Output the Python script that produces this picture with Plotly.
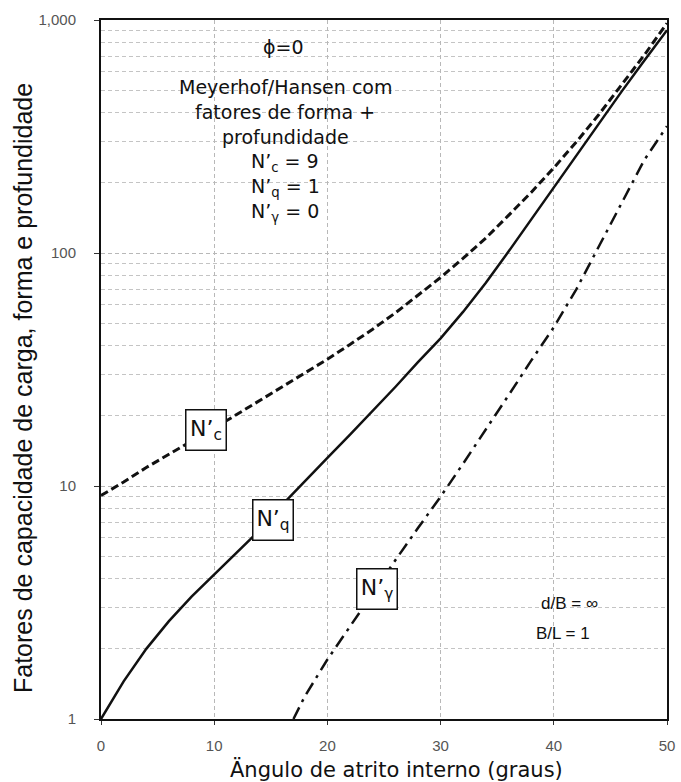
import plotly.graph_objects as go

# ---- data ----
phi = [0, 2, 4, 6, 8, 10, 12, 14, 16, 18, 20, 22, 24, 26, 28, 30, 32, 34, 36, 38, 40, 42, 44, 46, 48, 50]
nc = [9.1, 10.4, 12.0, 13.7, 15.6, 17.7, 20.3, 23.3, 26.6, 30.5, 35, 40.5, 47.1, 55.3, 65.6, 78.5, 95, 116, 145, 182, 232, 300, 394, 525, 708, 968]
nq = [1.0, 1.45, 2.0, 2.63, 3.35, 4.17, 5.18, 6.45, 8.3, 10.5, 13.2, 16.6, 21, 26.6, 34, 43, 56, 74.6, 101.4, 139, 192, 264, 362, 494, 670, 904]
phi_g = [17, 18, 20, 22, 24, 26, 28, 30, 32, 34, 36, 38, 40, 42, 44, 46, 48, 50]
ng = [1.0, 1.25, 1.8, 2.5, 3.45, 4.8, 6.6, 9.0, 12.5, 17.4, 24.5, 34.5, 48, 70, 107, 166, 251, 350]

x_ticks = [0, 10, 20, 30, 40, 50]
y_ticks = [1, 10, 100, 1000]
y_ticktext = ["1", "10", "100", "1,000"]
y_minor = [m * d for d in (1, 10, 100) for m in range(2, 10)]

fig = go.Figure()
fig.add_trace(go.Scatter(x=phi, y=nc, mode="lines", line=dict(color="#111", width=3, dash="8px,4px"), showlegend=False))
fig.add_trace(go.Scatter(x=phi, y=nq, mode="lines", line=dict(color="#111", width=2.5), showlegend=False))
fig.add_trace(go.Scatter(x=phi_g, y=ng, mode="lines", line=dict(color="#111", width=2.5, dash="13px,6px,3px,6px"), showlegend=False))

L, R, T, B = 101, 14, 20, 63
W, H = 681, 782
pw, ph = W - L - R, H - T - B


def px(x):
    return (x - L) / pw


def py(y):
    return (H - B - y) / ph


ann = []
tfont = dict(family="DejaVu Sans", size=19, color="#111")
ann.append(dict(text="ϕ=0", x=px(283), y=py(47), font=dict(family="DejaVu Sans", size=19, color="#111")))
lines = ["Meyerhof/Hansen com", "fatores de forma +", "profundidade",
         "N’<sub>c</sub> = 9", "N’<sub>q</sub> = 1", "N’<sub>γ</sub> = 0"]
for i, t in enumerate(lines):
    ann.append(dict(text=t, x=px(285), y=py(87 + 25 * i), font=tfont))

bfont = dict(family="DejaVu Sans", size=22, color="#111")
for t, cx, cy in [("N’<sub>c</sub>", 206, 430), ("N’<sub>q</sub>", 273, 520), ("N’<sub>γ</sub>", 377, 589)]:
    ann.append(dict(text=t, x=px(cx), y=py(cy), font=bfont, bgcolor="white",
                    bordercolor="#111", borderwidth=1.5, borderpad=1, width=37, height=37))

afont = dict(family="Liberation Sans", size=17, color="#111")
ann.append(dict(text="d/B = ∞", x=px(569), y=py(603), font=afont))
ann.append(dict(text="B/L = 1", x=px(563), y=py(633), font=afont))

# axis titles
ann.append(dict(text="Ängulo de atrito interno (graus)", x=px(396), y=py(769),
                font=dict(family="DejaVu Sans", size=21, color="#111")))
ann.append(dict(text="Fatores de capacidade de carga, forma e profundidade", x=px(23), y=py(388),
                textangle=-90, font=dict(family="Liberation Sans", size=25, color="#111")))

for a in ann:
    a.update(xref="paper", yref="paper", showarrow=False, xanchor="center", yanchor="middle")

grid = dict(gridcolor="#b8b8b8", gridwidth=1, griddash="4px,3px")

fig.update_layout(
    width=W, height=H,
    margin=dict(l=L, r=R, t=T, b=B, pad=0),
    paper_bgcolor="white", plot_bgcolor="white",
    annotations=ann,
    xaxis=dict(range=[0, 50], tickvals=x_ticks, ticks="outside", ticklen=4, tickcolor="#333",
               showline=True, linecolor="#111", linewidth=2, mirror=True, automargin=False,
               showgrid=True, zeroline=False, ticklabelstandoff=8,
               tickfont=dict(family="Liberation Sans", size=15, color="#555"), **grid),
    yaxis=dict(type="log", range=[0, 3], tickvals=y_ticks, ticktext=y_ticktext,
               ticks="outside", ticklen=5, tickcolor="#333",
               showline=True, linecolor="#111", linewidth=2, mirror=True, automargin=False,
               showgrid=True, zeroline=False, ticklabelstandoff=15,
               tickfont=dict(family="Liberation Sans", size=15, color="#555"),
               minor=dict(tickvals=y_minor, showgrid=True, gridcolor="#c4c4c4", gridwidth=1,
                          griddash="4px,3px", ticks=""), **grid),
)

fig.write_html("out.html")
